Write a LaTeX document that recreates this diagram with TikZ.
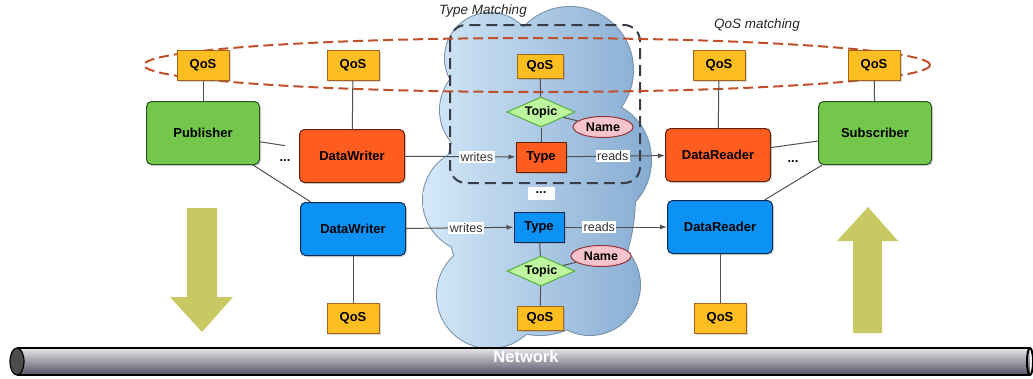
\documentclass[tikz,border=0pt]{standalone}
\usepackage{fontspec}
\setmainfont{Liberation Sans}
\usetikzlibrary{shapes.geometric,arrows.meta,shadows,calc}
\definecolor{qosfill}{RGB}{253,190,34}
\definecolor{qosdraw}{RGB}{165,100,30}
\definecolor{orfill}{RGB}{255,92,32}
\definecolor{ordraw}{RGB}{95,35,12}
\definecolor{blfill}{RGB}{12,146,245}
\definecolor{bldraw}{RGB}{15,40,80}
\definecolor{grfill}{RGB}{115,200,76}
\definecolor{grdraw}{RGB}{45,80,35}
\definecolor{tpfill}{RGB}{190,246,160}
\definecolor{tpdraw}{RGB}{85,175,65}
\definecolor{nmfill}{RGB}{248,196,203}
\definecolor{nmdraw}{RGB}{150,50,60}
\definecolor{conncol}{RGB}{80,80,80}
\definecolor{redash}{RGB}{192,80,42}
\definecolor{blackdash}{RGB}{55,60,70}
\definecolor{cloudL}{RGB}{212,232,248}
\definecolor{cloudR}{RGB}{135,172,210}
\definecolor{cloudedge}{RGB}{120,145,170}
\definecolor{bigarrow}{RGB}{201,201,100}
\definecolor{tubeT}{RGB}{230,230,234}
\definecolor{tubeM}{RGB}{178,178,186}
\definecolor{tubeB}{RGB}{84,82,100}
\begin{document}
\begin{tikzpicture}[x=1pt,y=-1pt,
  lbf/.style={font=\bfseries\fontsize{13}{15}\selectfont},
  shad/.style={drop shadow={shadow xshift=1.5pt,shadow yshift=-1.5pt,opacity=0.3}},
  qos/.style={lbf,shad,rectangle,fill=qosfill,draw=qosdraw,line width=1pt,inner sep=0pt,minimum width=52pt,minimum height=30pt},
  qossmall/.style={qos,minimum width=46pt,minimum height=24pt},
  entbox/.style={lbf,shad,rectangle,rounded corners=5pt,line width=1pt,inner sep=0pt},
  greenbox/.style={entbox,fill=grfill,draw=grdraw,minimum width=113pt,minimum height=63pt},
  orangebox/.style={entbox,fill=orfill,draw=ordraw,minimum width=105pt,minimum height=53pt},
  bluebox/.style={entbox,fill=blfill,draw=bldraw,minimum width=105pt,minimum height=53pt},
  typeo/.style={lbf,shad,rectangle,fill=orfill,draw=ordraw,line width=1pt,inner sep=0pt,minimum width=50pt,minimum height=30pt},
  typeb/.style={typeo,fill=blfill,draw=bldraw},
  topic/.style={font=\bfseries\fontsize{12.5}{14}\selectfont,shape=diamond,aspect=2.3,fill=tpfill,draw=tpdraw,line width=1pt,inner sep=0pt,minimum width=68pt,minimum height=30pt},
  namee/.style={font=\bfseries\fontsize{12.5}{14}\selectfont,shape=ellipse,fill=nmfill,draw=nmdraw,line width=1pt,inner sep=0pt,minimum width=60pt,minimum height=21pt},
  dots/.style={font=\bfseries\fontsize{13}{15}\selectfont,inner sep=1pt},
  conn/.style={draw=conncol,line width=1pt},
  arr/.style={conn,-{Latex[length=7pt,width=5pt]}},
  lbl/.style={font=\fontsize{12.5}{14}\selectfont,fill=white,inner sep=1.5pt,text=black!80},
  ital/.style={font=\itshape\fontsize{13.5}{15}\selectfont,text=black!85}
]
\useasboundingbox (0,0) rectangle (1033,378);
% cloud outline then fill
\draw[cloudedge,line width=2pt]
  (490,58) circle[radius=45] (570,70) circle[radius=63]
  (598,160) ellipse[x radius=53,y radius=58] (590,285) circle[radius=50]
  (475,200) circle[radius=52] (490,295) circle[radius=53]
  (490,110) circle[radius=50] (540,195) ellipse[x radius=95,y radius=140];
\shade[left color=cloudL,right color=cloudR]
  (490,58) circle[radius=45] (570,70) circle[radius=63]
  (598,160) ellipse[x radius=53,y radius=58] (590,285) circle[radius=50]
  (475,200) circle[radius=52] (490,295) circle[radius=53]
  (490,110) circle[radius=50] (540,195) ellipse[x radius=95,y radius=140];
% matching regions
\draw[blackdash,line width=2pt,dash pattern=on 11pt off 6pt,rounded corners=16pt]
  (450,25) rectangle (640,183);
\draw[redash,line width=2pt,dash pattern=on 10pt off 5pt]
  (537,65) ellipse[x radius=393,y radius=27];
\node[ital] (tm) at (483,11) {Type Matching};
\node[ital] (qm) at (757,25) {QoS matching};
% big arrows
\fill[bigarrow] (187,208) -- (217,208) -- (217,297) -- (233,297) -- (202,332) -- (170,297) -- (187,297) -- cycle;
\fill[bigarrow] (853,333) -- (882,333) -- (882,241) -- (898,241) -- (868,207) -- (837,241) -- (853,241) -- cycle;
% nodes
\node[qos] (q1) at (203,65) {QoS};
\node[qos] (q2) at (353,65) {QoS};
\node[qossmall] (q3) at (540,66) {QoS};
\node[qos] (q4) at (719,65) {QoS};
\node[qos] (q5) at (874,65) {QoS};
\node[greenbox] (pub) at (203,133) {Publisher};
\node[greenbox] (sub) at (875,133) {Subscriber};
\node[orangebox] (dw1) at (352,156) {DataWriter};
\node[orangebox] (dr1) at (718,155) {DataReader};
\node[typeo] (t1) at (541,157) {Type};
\node[topic] (tp1) at (541,112) {Topic};
\node[namee] (n1) at (603,127) {Name};
\node[bluebox] (dw2) at (353,229) {DataWriter};
\node[bluebox] (dr2) at (720,227) {DataReader};
\node[typeb] (t2) at (539,227) {Type};
\node[topic] (tp2) at (541,271) {Topic};
\node[namee] (n2) at (601,256) {Name};
\node[qos] (q6) at (353,318) {QoS};
\node[qossmall] (q7) at (540,318) {QoS};
\node[qos] (q8) at (720,318) {QoS};
\node[dots] (d1) at (285,161) {...};
\node[dots] (d2) at (793,162) {...};
\node[dots,fill=white,minimum width=27pt,minimum height=13pt] (d3) at (541,193) {...};
\coordinate (pubend) at ($(pub)!0.55!(dw1)$);
% connectors
\draw[conn] (q1) -- (pub);
\draw[conn] (q2) -- (dw1);
\draw[conn] (q3) -- (tp1);
\draw[conn] (tp1) -- (t1);
\draw[conn] (tp1) -- (n1);
\draw[conn] (q4) -- (dr1);
\draw[conn] (q5) -- (sub);
\draw[conn] (pub) -- (pubend);
\draw[conn] (pub) -- (dw2);
\draw[conn] (sub) -- (dr1);
\draw[conn] (sub) -- (dr2);
\draw[arr] (dw1) -- node[lbl,pos=0.65] {writes} (t1);
\draw[arr] (t1) -- node[lbl,pos=0.47] {reads} (dr1);
\draw[arr] (dw2) -- node[lbl,pos=0.56] {writes} (t2);
\draw[arr] (t2) -- node[lbl,pos=0.34] {reads} (dr2);
\draw[conn] (t2) -- (tp2);
\draw[conn] (tp2) -- (q7);
\draw[conn] (tp2) -- (n2);
\draw[conn] (dw2) -- (q6);
\draw[conn] (dr2) -- (q8);
% network tube
\shade[top color=tubeT,middle color=tubeM,bottom color=tubeB] (17,348) rectangle (1030,375);
\draw[black,line width=1.5pt] (17,348) -- (1030,348) (17,375) -- (1030,375);
\draw[black,line width=1.2pt,fill=black!70] (17,361.5) ellipse[x radius=7,y radius=13.5];
\draw[black,line width=2pt] (1030,361.5) ellipse[x radius=3,y radius=13.5];
\node[font=\bfseries\fontsize{16.5}{18}\selectfont,text=white] (net) at (526,357) {Network};
\end{tikzpicture}
\end{document}
